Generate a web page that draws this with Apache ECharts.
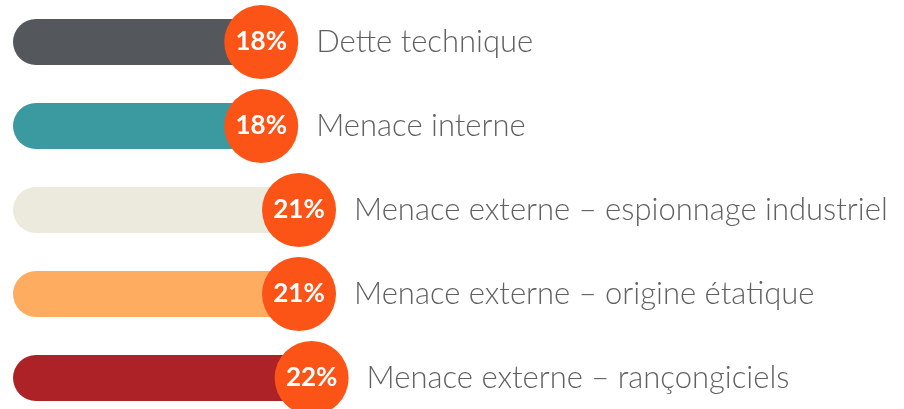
<!DOCTYPE html>
<html>
<head>
<meta charset="utf-8">
<script src="https://cdn.jsdelivr.net/npm/echarts@6/dist/echarts.min.js"></script>
<style>
html,body{margin:0;padding:0;background:#fff;}
#chart{width:904px;height:409px;}
</style>
</head>
<body>
<div id="chart"></div>
<script>
var categories = [
  'Dette technique',
  'Menace interne',
  'Menace externe – espionnage industriel',
  'Menace externe – origine étatique',
  'Menace externe – rançongiciels'
];
var values = [18, 18, 21, 21, 22];
var barColors = ['#54575C', '#3A9AA0', '#ECEADC', '#FEAC60', '#AD2227'];
var badgeColor = '#FC5316';

var chart = echarts.init(document.getElementById('chart'), null, {renderer: 'canvas'});

var AXIS_MIN = -1.7;
var AXIS_MAX = 68.3;
var ROW_MIN = -0.5;
var ROW_MAX = 4.369;

var option = {
  animation: false,
  grid: {left: 13, right: 9, top: 0, bottom: 0, containLabel: false},
  xAxis: {
    type: 'value', min: AXIS_MIN, max: AXIS_MAX,
    show: false
  },
  yAxis: {
    type: 'value', min: ROW_MIN, max: ROW_MAX, inverse: true,
    show: false
  },
  series: [
    {
      type: 'custom',
      z: 1,
      data: values.map(function (v, i) { return [v, i]; }),
      encode: {x: 0, y: 1},
      renderItem: function (params, api) {
        var idx = api.value(1);
        var end = api.coord([api.value(0), idx]);
        var start = api.coord([AXIS_MIN, idx]);
        var h = 46;
        return {
          type: 'rect',
          shape: {x: start[0], y: end[1] - h / 2, width: end[0] - start[0], height: h, r: h / 2},
          style: {fill: barColors[params.dataIndex]}
        };
      }
    },
    {
      type: 'scatter',
      z: 3,
      symbol: 'circle',
      symbolSize: 74,
      data: values.map(function (v, i) { return [v, i]; }),
      itemStyle: {color: badgeColor, opacity: 1},
      label: {
        show: true, position: 'inside',
        formatter: function (p) { return values[p.dataIndex] + '%'; },
        color: '#ffffff', fontFamily: 'Lato', fontWeight: 'bold', fontSize: 26
      },
      emphasis: {disabled: true}
    },
    {
      type: 'scatter',
      z: 4,
      symbol: 'circle',
      symbolSize: 74,
      data: values.map(function (v, i) { return [v, i]; }),
      itemStyle: {color: 'rgba(0,0,0,0)'},
      label: {
        show: true, position: 'right', distance: 18,
        formatter: function (p) { return categories[p.dataIndex]; },
        color: '#38383a', fontFamily: 'Lato', fontWeight: 300, fontSize: 31
      },
      emphasis: {disabled: true}
    }
  ]
};
chart.setOption(option);
</script>
</body>
</html>
